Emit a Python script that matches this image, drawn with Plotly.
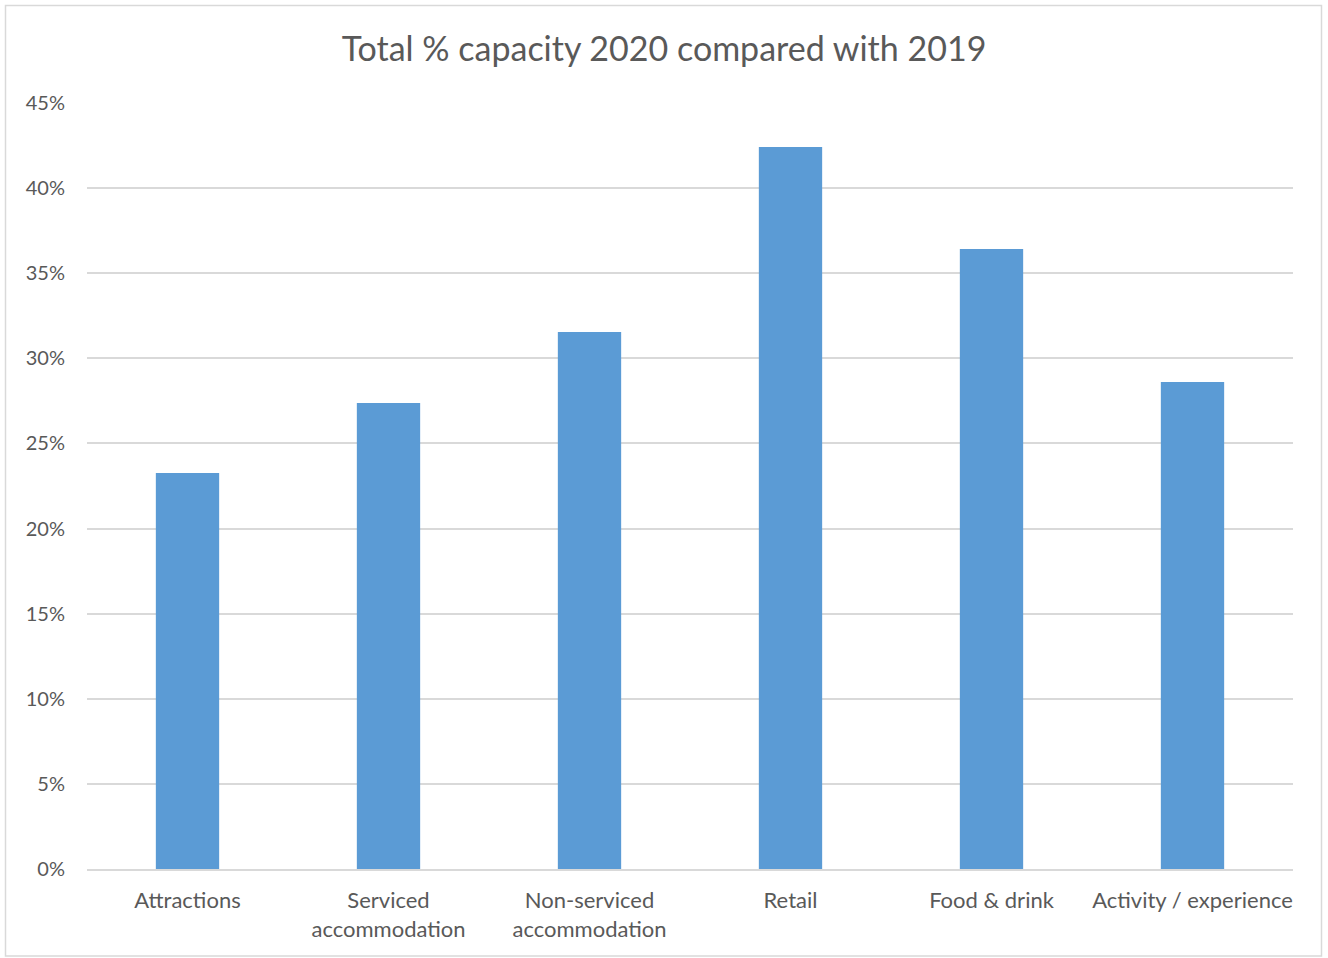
import plotly.graph_objects as go

categories = ["Attractions", "Serviced<br>accommodation", "Non-serviced<br>accommodation",
              "Retail", "Food & drink", "Activity / experience"]
values = [0.2327, 0.2738, 0.3155, 0.4242, 0.3643, 0.2861]
tick_vals = [0, 0.05, 0.10, 0.15, 0.20, 0.25, 0.30, 0.35, 0.40, 0.45]
tick_text = ["0%", "5%", "10%", "15%", "20%", "25%", "30%", "35%", "40%", "45%"]

W, H = 1328, 958
L, R, T, B = 87, 35, 103, 89
pw, ph = W - L - R, H - T - B

fig = go.Figure(go.Bar(x=categories, y=values, marker_color="#5B9BD5",
                       marker_line_width=0, hoverinfo="skip"))

fig.update_layout(
    width=W, height=H,
    margin=dict(l=L, r=R, t=T, b=B),
    paper_bgcolor="white", plot_bgcolor="white",
    bargap=0.685,
    showlegend=False,
    font=dict(family="Lato, Open Sans, sans-serif", color="#595959", size=20),
    title=dict(text="Total % capacity 2020 compared with 2019", xref="container",
               x=0.5, xanchor="center", yref="container", y=1 - 49 / H, yanchor="middle",
               font=dict(size=34, color="#595959")),
)
fig.update_yaxes(range=[0, 0.45], tickvals=tick_vals, ticktext=tick_text,
                 showgrid=True, gridcolor="#d9d9d9", gridwidth=2, zeroline=False,
                 showline=False, ticks="", ticklabelstandoff=21,
                 tickfont=dict(size=20, color="#595959"))
fig.update_xaxes(showline=True, linecolor="#d9d9d9", linewidth=2, ticks="",
                 showgrid=False, ticklabelstandoff=11,
                 tickfont=dict(size=22, color="#595959"))

fig.add_shape(type="rect", xref="paper", yref="paper",
              x0=(5.5 - L) / pw, x1=(1321.5 - L) / pw,
              y0=(H - B - 956) / ph, y1=(H - B - 5.5) / ph,
              line=dict(color="#d9d9d9", width=1.5), fillcolor="rgba(0,0,0,0)", layer="below")

fig.write_html("out.html")
